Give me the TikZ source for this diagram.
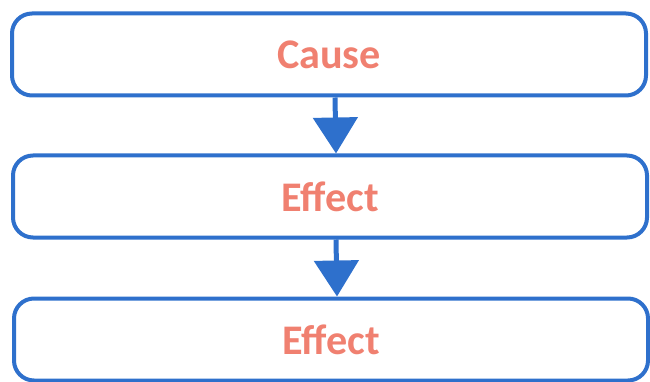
\documentclass[tikz,border=0pt]{standalone}
\usepackage{fontspec}
\setmainfont{Carlito}
\usetikzlibrary{arrows.meta}
\definecolor{boxblue}{RGB}{46,112,204}
\definecolor{salmon}{RGB}{240,128,112}
\begin{document}
\begin{tikzpicture}[
    box/.style={draw=boxblue, line width=0.08cm, rounded corners=0.4cm,
        minimum width=12.68cm, minimum height=1.64cm, inner sep=0pt,
        text=salmon, font=\fontsize{24}{28}\selectfont\bfseries},
    link/.style={draw=boxblue, line width=0.1cm,
        -{Triangle[width=0.88cm,length=0.72cm]}}]
        \useasboundingbox (0,0) rectangle (13,7.62);
        \node[box] (cause) at (6.58,6.53) {Cause};
        \node[box] (effect1) at (6.6,3.69) {Effect};
        \node[box] (effect2) at (6.62,0.83) {Effect};

        \draw[link] ([xshift=0.12cm]cause.south) -- ([xshift=0.12cm]effect1.north);
        \draw[link] ([xshift=0.12cm]effect1.south) -- ([xshift=0.12cm]effect2.north);
    \end{tikzpicture}
\end{document}
